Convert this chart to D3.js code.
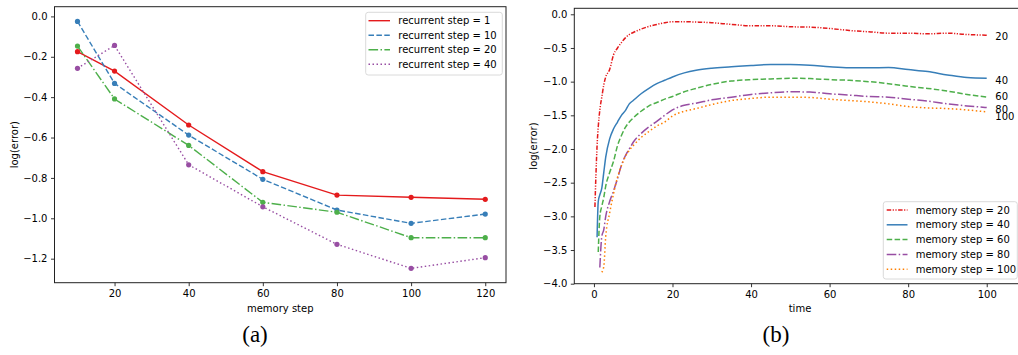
<!DOCTYPE html>
<html><head><meta charset="utf-8">
<script src="https://cdn.jsdelivr.net/npm/d3@7"></script>
<style>
html,body{margin:0;padding:0;background:#fff;}
svg text{font-family:"DejaVu Sans",sans-serif;}
</style></head>
<body>
<svg id="chart" width="1018" height="355"></svg>
<script>
// ---------- Panel (a) data ----------
const memorySteps = [10, 20, 40, 60, 80, 100, 120];
const recurrent1  = [-0.175, -0.271, -0.538, -0.769, -0.885, -0.896, -0.906];
const recurrent10 = [-0.025, -0.332, -0.588, -0.807, -0.959, -1.025, -0.979];
const recurrent20 = [-0.147, -0.409, -0.639, -0.921, -0.970, -1.096, -1.096];
const recurrent40 = [-0.257, -0.144, -0.735, -0.943, -1.129, -1.248, -1.195];
const leftXTicks = [20, 40, 60, 80, 100, 120];
const leftYTicks = [0.0, -0.2, -0.4, -0.6, -0.8, -1.0, -1.2];
const leftSeriesNames = ["recurrent step = 1", "recurrent step = 10", "recurrent step = 20", "recurrent step = 40"];

// ---------- Panel (b) data ----------
const timeSteps = [0.25,0.5,0.8,1.1,1.5,2,2.5,3,4,5,6,7,8,9,10,12,14,16,18,20,23,26,30,35,40,45,50,55,60,65,70,75,80,85,90,95,100];
const mem20  = [-2.86,-2.4,-1.95,-1.67,-1.42,-1.23,-1.05,-0.93,-0.82,-0.60,-0.50,-0.42,-0.35,-0.30,-0.27,-0.22,-0.18,-0.15,-0.125,-0.11,-0.11,-0.115,-0.125,-0.15,-0.17,-0.17,-0.185,-0.19,-0.21,-0.24,-0.26,-0.28,-0.28,-0.29,-0.28,-0.30,-0.31];
const mem40  = [null,null,-3.31,-2.78,-2.68,-2.58,-2.35,-2.12,-1.85,-1.70,-1.60,-1.50,-1.43,-1.33,-1.28,-1.18,-1.10,-1.03,-0.98,-0.93,-0.87,-0.83,-0.80,-0.78,-0.76,-0.745,-0.745,-0.755,-0.78,-0.795,-0.795,-0.79,-0.82,-0.85,-0.90,-0.94,-0.95];
const mem60  = [null,null,null,-3.53,-3.0,-2.85,-2.72,-2.55,-2.35,-2.18,-1.95,-1.80,-1.68,-1.60,-1.54,-1.44,-1.36,-1.31,-1.26,-1.22,-1.15,-1.10,-1.04,-0.99,-0.97,-0.96,-0.95,-0.955,-0.97,-0.98,-1.0,-1.03,-1.07,-1.10,-1.14,-1.19,-1.23];
const mem80  = [null,null,null,null,-3.76,-3.3,-3.2,-3.0,-2.78,-2.62,-2.44,-2.24,-2.10,-2.0,-1.90,-1.77,-1.67,-1.59,-1.50,-1.42,-1.35,-1.32,-1.27,-1.23,-1.19,-1.165,-1.15,-1.155,-1.18,-1.20,-1.22,-1.23,-1.26,-1.29,-1.33,-1.36,-1.385];
const mem100 = [null,null,null,null,null,-3.83,-3.75,-3.3,-2.95,-2.66,-2.42,-2.25,-2.11,-2.02,-1.95,-1.83,-1.74,-1.66,-1.60,-1.51,-1.44,-1.40,-1.34,-1.28,-1.25,-1.23,-1.23,-1.235,-1.26,-1.28,-1.30,-1.33,-1.37,-1.39,-1.40,-1.42,-1.45];
const rightXTicks = [0, 20, 40, 60, 80, 100];
const rightYTicks = [0.0, -0.5, -1.0, -1.5, -2.0, -2.5, -3.0, -3.5, -4.0];
const rightSeriesNames = ["memory step = 20", "memory step = 40", "memory step = 60", "memory step = 80", "memory step = 100"];
const endLabels = ["20", "40", "60", "80", "100"];
const endLabelValues = [-0.333, -0.976, -1.223, -1.41, -1.52];
const endLabelTime = 102.2;

// ---------- styling ----------
const C = {red:"#e41a1c", blue:"#377eb8", green:"#4daf4a", purple:"#984ea3", orange:"#ff7f00"};
const leftColors = [C.red, C.blue, C.green, C.purple];
const leftDash = [null, "5.5,2.4", "9.6,2.4,1.5,2.4", "1.5,2.5"];
const rightColors = [C.red, C.blue, C.green, C.purple, C.orange];
const rightDash = ["4.5,1.5,1.2,1.5,1.2,1.5", null, "5.5,2.4", "9.6,2.4,1.5,2.4", "1.5,2.5"];

const svg = d3.select("#chart");

function drawAxes(g, x, y, xTicks, yTicks, fmtY) {
  const xa = d3.axisBottom(x).tickValues(xTicks).tickSize(3.5).tickPadding(3.5).tickFormat(d3.format("d"));
  const ya = d3.axisLeft(y).tickValues(yTicks).tickSize(3.5).tickPadding(3.5).tickFormat(fmtY);
  const [y0, y1] = y.range();
  const gx = g.append("g").attr("transform", `translate(0,${y1})`).call(xa);
  const gy = g.append("g").attr("transform", `translate(${x.range()[0]},0)`).call(ya);
  [gx, gy].forEach(a => {
    a.select(".domain").remove();
    a.selectAll(".tick line").attr("stroke", "#000").attr("stroke-width", 0.8);
    a.selectAll(".tick text").attr("font-size", 10).attr("fill", "#000").attr("font-family", "DejaVu Sans");
  });
  gy.selectAll(".tick text").text(d => fmtY(d).replace("-", "\u2212"));
}

// ===== Panel (a) =====
{
  const x = d3.scaleLinear().domain([3.8, 125.6]).range([54.5, 506]);
  const y = d3.scaleLinear().domain([0.048, -1.319]).range([6.7, 282.7]);
  const g = svg.append("g");
  const series = [recurrent1, recurrent10, recurrent20, recurrent40];
  const line = d3.line().x((d, i) => x(memorySteps[i])).y(d => y(d));
  series.forEach((s, k) => {
    g.append("path").attr("d", line(s)).attr("fill", "none")
      .attr("stroke", leftColors[k]).attr("stroke-width", 1.4)
      .attr("stroke-dasharray", leftDash[k]);
  });
  series.forEach((s, k) => {
    g.selectAll(null).data(s).enter().append("circle")
      .attr("cx", (d, i) => x(memorySteps[i])).attr("cy", d => y(d))
      .attr("r", 2.6).attr("fill", leftColors[k]);
  });
  drawAxes(g, x, y, leftXTicks, leftYTicks, d3.format(".1f"));
  // frame
  g.append("rect").attr("x", x.range()[0]).attr("y", y.range()[0])
    .attr("width", x.range()[1] - x.range()[0]).attr("height", y.range()[1] - y.range()[0])
    .attr("fill", "none").attr("stroke", "#222").attr("stroke-width", 1);
  g.append("text").attr("x", (x.range()[0] + x.range()[1]) / 2).attr("y", 312)
    .attr("text-anchor", "middle").attr("font-size", 10).text("memory step");
  g.append("text").attr("transform", `translate(17.5,${(y.range()[0] + y.range()[1]) / 2}) rotate(-90)`)
    .attr("text-anchor", "middle").attr("font-size", 10).text("log(error)");
  // legend
  const lg = g.append("g");
  lg.append("rect").attr("x", 365.7).attr("y", 12.3).attr("width", 136.6).attr("height", 62.7)
    .attr("rx", 2.5).attr("fill", "#fff").attr("fill-opacity", 0.8).attr("stroke", "#d0d0d0").attr("stroke-width", 0.8);
  leftSeriesNames.forEach((name, k) => {
    const yy = 20.7 + k * 14.5;
    lg.append("line").attr("x1", 368.5).attr("x2", 390).attr("y1", yy).attr("y2", yy)
      .attr("stroke", leftColors[k]).attr("stroke-width", 1.4).attr("stroke-dasharray", leftDash[k]);
    lg.append("text").attr("x", 398.3).attr("y", yy).attr("dy", "0.35em").attr("font-size", 10).text(name);
  });
  svg.append("text").attr("x", 255).attr("y", 342).attr("text-anchor", "middle")
    .attr("font-family", "Liberation Serif").attr("font-size", 23).style("font-family", "'Liberation Serif', serif").text("(a)");
}

// ===== Panel (b) =====
{
  const x = d3.scaleLinear().domain([-5, 110]).range([574.3, 1026]);
  const y = d3.scaleLinear().domain([0.089, -4.0]).range([8.3, 283.7]);
  const g = svg.append("g");
  const series = [mem20, mem40, mem60, mem80, mem100];
  const line = d3.line().defined(d => d != null)
    .x((d, i) => x(timeSteps[i])).y(d => y(d)).curve(d3.curveMonotoneX);
  series.forEach((s, k) => {
    g.append("path").attr("d", line(s)).attr("fill", "none")
      .attr("stroke", rightColors[k]).attr("stroke-width", 1.5)
      .attr("stroke-dasharray", rightDash[k]);
  });
  drawAxes(g, x, y, rightXTicks, rightYTicks, d3.format(".1f"));
  g.append("rect").attr("x", x.range()[0]).attr("y", y.range()[0])
    .attr("width", x.range()[1] - x.range()[0]).attr("height", y.range()[1] - y.range()[0])
    .attr("fill", "none").attr("stroke", "#222").attr("stroke-width", 1);
  g.selectAll(null).data(endLabels).enter().append("text")
    .attr("x", x(endLabelTime)).attr("y", (d, i) => y(endLabelValues[i])).attr("dy", "0.35em")
    .attr("font-size", 10).text(d => d);
  g.append("text").attr("x", 800).attr("y", 312).attr("text-anchor", "middle").attr("font-size", 10).text("time");
  g.append("text").attr("transform", `translate(537,${(y.range()[0] + y.range()[1]) / 2}) rotate(-90)`)
    .attr("text-anchor", "middle").attr("font-size", 10).text("log(error)");
  const lg = g.append("g");
  lg.append("rect").attr("x", 883.3).attr("y", 201.7).attr("width", 134).attr("height", 77.3)
    .attr("rx", 2.5).attr("fill", "#fff").attr("fill-opacity", 0.8).attr("stroke", "#d0d0d0").attr("stroke-width", 0.8);
  rightSeriesNames.forEach((name, k) => {
    const yy = 210 + k * 14.8;
    lg.append("line").attr("x1", 886.7).attr("x2", 907.5).attr("y1", yy).attr("y2", yy)
      .attr("stroke", rightColors[k]).attr("stroke-width", 1.5).attr("stroke-dasharray", rightDash[k]);
    lg.append("text").attr("x", 915.7).attr("y", yy).attr("dy", "0.35em").attr("font-size", 10).text(name);
  });
  svg.append("text").attr("x", 776).attr("y", 342).attr("text-anchor", "middle")
    .attr("font-size", 23).style("font-family", "'Liberation Serif', serif").text("(b)");
}
</script>
</body></html>
